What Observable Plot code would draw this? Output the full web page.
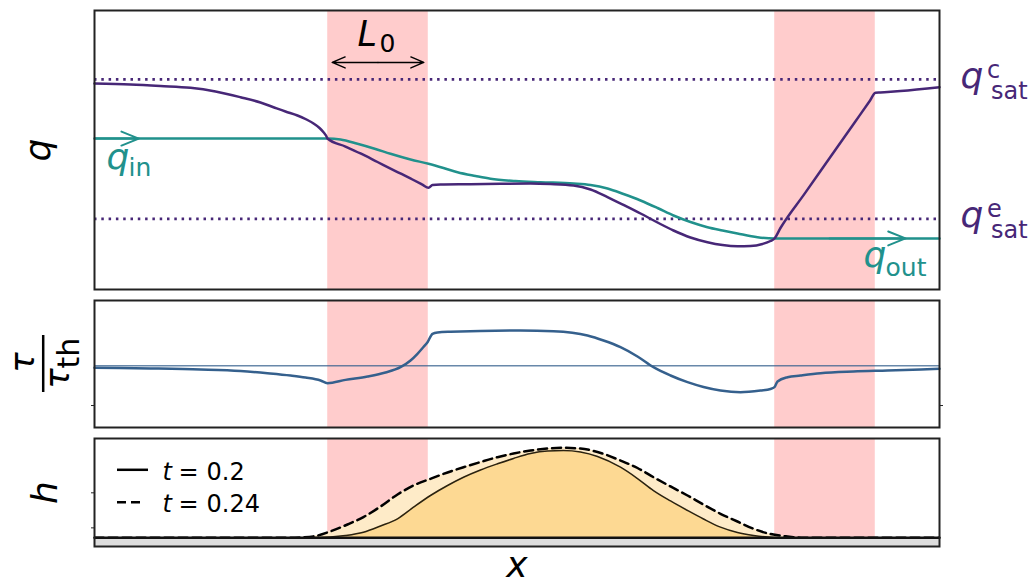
<!DOCTYPE html>
<html><head><meta charset="utf-8">
<script src="https://cdn.jsdelivr.net/npm/d3@7"></script>
<script src="https://cdn.jsdelivr.net/npm/@observablehq/plot@0.6"></script>
<style>
body{margin:0;background:#fff;}
#chart{position:relative;width:1029px;height:584px;}
#chart svg{position:absolute;left:0;}
</style></head><body><div id="chart"></div>
<script>
// ---------- data (x normalised along the channel) ----------
const bandStart = [0.276, 0.805];
const bandEnd   = [0.395, 0.924];

const qSatC = 0.753, qSatE = 0.253, qIn = 0.541, qOut = 0.183, tauTh = 1;

// q (purple)
const qX = [0, 0.0426, 0.0781, 0.1136, 0.1432, 0.1728, 0.1964, 0.2118, 0.2260, 0.2402, 0.2509, 0.2592, 0.2663, 0.2710, 0.2746, 0.2757, 0.2970, 0.3148, 0.3349, 0.3562, 0.3763, 0.3880, 0.3953, 0.4000, 0.4095, 0.4450, 0.4805, 0.5160, 0.5396, 0.5669, 0.5870, 0.6071, 0.6260, 0.6462, 0.6663, 0.6852, 0.7053, 0.7254, 0.7432, 0.7609, 0.7763, 0.7905, 0.8000, 0.8047, 0.8118, 0.8400, 0.8700, 0.9000, 0.9170, 0.9243, 0.9300, 0.9538, 1.0];
const qVal = [0.7384, 0.7348, 0.7294, 0.7229, 0.7097, 0.6892, 0.6703, 0.6534, 0.6380, 0.6237, 0.6093, 0.5950, 0.5789, 0.5638, 0.5484, 0.5412, 0.5125, 0.4875, 0.4570, 0.4247, 0.3943, 0.3760, 0.3645, 0.3746, 0.3763, 0.3774, 0.3789, 0.3799, 0.3781, 0.3728, 0.3584, 0.3308, 0.3029, 0.2724, 0.2401, 0.2115, 0.1864, 0.1695, 0.1595, 0.1552, 0.1559, 0.1631, 0.1738, 0.1828, 0.2204, 0.3419, 0.4711, 0.6003, 0.6735, 0.7050, 0.7062, 0.7115, 0.7251];

// flux (teal)
const fluxX = [0, 0.2757, 0.2911, 0.3112, 0.3325, 0.3503, 0.3740, 0.3953, 0.4130, 0.4296, 0.4509, 0.4686, 0.4982, 0.5278, 0.5669, 0.5870, 0.6071, 0.6260, 0.6462, 0.6663, 0.6852, 0.7053, 0.7254, 0.7432, 0.7609, 0.7846, 0.8047, 1.0];
const fluxVal = [0.5412, 0.5412, 0.5376, 0.5222, 0.5036, 0.4864, 0.4659, 0.4505, 0.4355, 0.4204, 0.4068, 0.3968, 0.3889, 0.3846, 0.3799, 0.3746, 0.3620, 0.3423, 0.3190, 0.2921, 0.2652, 0.2419, 0.2233, 0.2115, 0.2007, 0.1875, 0.1828, 0.1828];

// tau / tau_th
const tauX = [0, 0.0663, 0.1254, 0.1728, 0.2047, 0.2320, 0.2497, 0.2675, 0.2757, 0.2970, 0.3231, 0.3444, 0.3621, 0.3740, 0.3822, 0.3893, 0.3941, 0.4000, 0.4059, 0.4213, 0.5041, 0.5432, 0.5834, 0.6024, 0.6225, 0.6426, 0.6615, 0.6817, 0.7018, 0.7207, 0.7408, 0.7645, 0.7882, 0.8000, 0.8047, 0.8083, 0.8201, 0.8355, 0.8592, 0.8982, 0.9385, 1.0];
const tauVal = [0.9843, 0.9787, 0.9709, 0.9591, 0.9417, 0.9236, 0.9079, 0.8843, 0.8630, 0.8890, 0.9157, 0.9472, 0.9890, 1.0417, 1.0945, 1.1480, 1.1858, 1.2520, 1.2622, 1.2677, 1.2780, 1.2724, 1.2386, 1.1992, 1.1465, 1.0732, 0.9890, 0.9236, 0.8709, 0.8331, 0.8055, 0.7921, 0.8055, 0.8173, 0.8315, 0.8764, 0.9102, 0.9236, 0.9417, 0.9551, 0.9630, 0.9764];

// h at t = 0.2 (solid) and t = 0.24 (dashed)
const hSolidX = [0, 0.2438, 0.2615, 0.2793, 0.2970, 0.3183, 0.3385, 0.3586, 0.3775, 0.3976, 0.4178, 0.4367, 0.4568, 0.4769, 0.4959, 0.5160, 0.5361, 0.5550, 0.5751, 0.5953, 0.6225, 0.6426, 0.6615, 0.6817, 0.7018, 0.7207, 0.7408, 0.7609, 0.7799, 0.8036, 0.8237, 1.0];
const hSolidVal = [0, 0, 0.003, 0.008, 0.023, 0.056, 0.119, 0.191, 0.308, 0.426, 0.527, 0.610, 0.683, 0.745, 0.799, 0.849, 0.874, 0.879, 0.864, 0.819, 0.711, 0.597, 0.476, 0.371, 0.275, 0.189, 0.107, 0.053, 0.023, 0.003, 0, 0];
const hDashX = [0, 0.2320, 0.2438, 0.2615, 0.2793, 0.2994, 0.3183, 0.3385, 0.3586, 0.3775, 0.3976, 0.4178, 0.4367, 0.4568, 0.4769, 0.4959, 0.5160, 0.5361, 0.5550, 0.5751, 0.5953, 0.6225, 0.6426, 0.6615, 0.6817, 0.7018, 0.7207, 0.7408, 0.7609, 0.7799, 0.8000, 0.8201, 0.8391, 1.0];
const hDashVal = [0, 0, 0.003, 0.018, 0.065, 0.134, 0.209, 0.315, 0.436, 0.527, 0.594, 0.658, 0.711, 0.763, 0.812, 0.849, 0.879, 0.899, 0.906, 0.899, 0.864, 0.778, 0.703, 0.610, 0.517, 0.426, 0.335, 0.242, 0.164, 0.091, 0.038, 0.013, 0, 0];

// annotations
const arrowTail = [-0.05, 0.87];
const arrowTip = [0.0524, 0.9598];
const l0ArrowY = 0.814;
const tauTicks = [0.687];
const hTicks = [0.1, 0.453];
const hDomain = [-0.0876, 1.0];
const tauDomain = [0.514, 1.514];
const legendLabels = ["0.2", "0.24"];

// ---------- build tables ----------
const zip = (xs, vs) => xs.map((x, i) => ({x, v: vs[i]}));
const bands = bandStart.map((s, i) => ({x1: s, x2: bandEnd[i]}));
const qData = zip(qX, qVal), fluxData = zip(fluxX, fluxVal), tauData = zip(tauX, tauVal);
const hSolid = zip(hSolidX, hSolidVal), hDash = zip(hDashX, hDashVal);
const qArrows = [{x1: arrowTail[0], x2: arrowTip[0], y: qIn}, {x1: arrowTail[1], x2: arrowTip[1], y: qOut}];
const bc = (bands[0].x1 + bands[0].x2) / 2;
const l0Arrows = [{x1: bc, x2: bands[0].x1, y: l0ArrowY}, {x1: bc, x2: bands[0].x2, y: l0ArrowY}];

// ---------- style ----------
const teal = "#21918c", purple = "#472777", tauBlue = "#35608d", pink = "#ffcccc";
const F = "DejaVu Sans";
const frameStroke = "#222";

function layout(h, mb, yDomain) {
  return {width: 1029, height: h, marginLeft: 94, marginRight: 90, marginTop: 10, marginBottom: mb,
    x: {domain: [0, 1], axis: null, label: null}, y: {domain: yDomain, axis: null, label: null},
    style: {background: "transparent", overflow: "visible", fontFamily: F}};
}
function txt(s, o) {
  return Plot.text([s], {text: d => d, fontFamily: F, textAnchor: "start", lineAnchor: "bottom", ...o});
}
const tickOpts = {tickSize: 3, tickFormat: () => "", label: null, stroke: frameStroke};

// ---------- panel 1 : q ----------
const p1 = Plot.plot({
  ...layout(290, 1, [0, 1]),
  marks: [
    Plot.rect(bands, {x1: "x1", x2: "x2", fill: pink}),
    Plot.ruleY([qSatC, qSatE], {stroke: purple, strokeWidth: 2.6, strokeDasharray: "2.5,4.8"}),
    Plot.line(fluxData, {x: "x", y: "v", stroke: teal, strokeWidth: 2.5, curve: "monotone-x"}),
    Plot.line(qData, {x: "x", y: "v", stroke: purple, strokeWidth: 2.5, curve: "monotone-x"}),
    Plot.arrow(qArrows, {x1: "x1", x2: "x2", y1: "y", y2: "y", stroke: teal, strokeWidth: 2, headLength: 14, headAngle: 44, clip: true}),
    Plot.arrow(l0Arrows, {x1: "x1", x2: "x2", y1: "y", y2: "y", stroke: "#000", strokeWidth: 1.5, headLength: 14, headAngle: 46, insetEnd: 4.5}),
    // L0
    txt("L", {x: () => bc, frameAnchor: "top", dx: -20.5, dy: 35, fontSize: 35, fontStyle: "italic", fill: "#000"}),
    txt("0", {x: () => bc, frameAnchor: "top", dx: 1.5, dy: 41.7, fontSize: 25, fill: "#000"}),
    // q_in
    txt("q", {y: () => qIn, frameAnchor: "left", dx: 12, dy: 30, fontSize: 36, fontStyle: "italic", fill: teal}),
    txt("in", {y: () => qIn, frameAnchor: "left", dx: 34, dy: 37, fontSize: 25, fill: teal}),
    // q_out
    txt("q", {y: () => qOut, frameAnchor: "right", dx: -76, dy: 29, fontSize: 36, fontStyle: "italic", fill: teal}),
    txt("out", {y: () => qOut, frameAnchor: "right", dx: -54, dy: 38, fontSize: 25, fill: teal}),
    // q_sat^c, q_sat^e
    ...[[qSatC, "c"], [qSatE, "e"]].flatMap(([lv, sup]) => [
      txt("q", {y: () => lv, frameAnchor: "right", dx: 21, dy: 8.5, fontSize: 36, fontStyle: "italic", fill: purple}),
      txt(sup, {y: () => lv, frameAnchor: "right", dx: 47.5, dy: -1.5, fontSize: 24, fill: purple}),
      txt("sat", {y: () => lv, frameAnchor: "right", dx: 51.5, dy: 19.5, fontSize: 24, fill: purple})
    ]),
    // y label
    txt("q", {frameAnchor: "left", dx: -45, rotate: -90, textAnchor: "middle", fontSize: 36, fontStyle: "italic", fill: "#000"}),
    Plot.frame({stroke: frameStroke, strokeWidth: 2})
  ]
});

// ---------- panel 2 : tau ----------
const p2 = Plot.plot({
  ...layout(138, 1, tauDomain),
  marks: [
    Plot.rect(bands, {x1: "x1", x2: "x2", fill: pink}),
    Plot.ruleY([tauTh], {stroke: tauBlue, strokeOpacity: 0.75, strokeWidth: 1.6}),
    Plot.line(tauData, {x: "x", y: "v", stroke: tauBlue, strokeWidth: 2.5, curve: "monotone-x"}),
    Plot.axisY(tauTicks, {anchor: "left", ...tickOpts}),
    Plot.axisY(tauTicks, {anchor: "right", ...tickOpts}),
    // fraction label tau / tau_th
    txt("τ", {frameAnchor: "left", dx: -60.5, dy: -1.5, rotate: -90, textAnchor: "middle", fontSize: 34, fontStyle: "italic", fill: "#000"}),
    Plot.ruleX([0], {x: null, dx: 42.7 - 516.5, insetTop: 35, insetBottom: 35, stroke: "#000", strokeWidth: 2.5}),
    txt("τ", {frameAnchor: "left", dx: -26, dy: 14.5, rotate: -90, textAnchor: "middle", fontSize: 34, fontStyle: "italic", fill: "#000"}),
    txt("th", {frameAnchor: "left", dx: -16, dy: -11, rotate: -90, textAnchor: "middle", fontSize: 30, fill: "#000"}),
    Plot.frame({stroke: frameStroke, strokeWidth: 2})
  ]
});

// ---------- panel 3 : h ----------
const p3 = Plot.plot({
  ...layout(156, 38, hDomain),
  marks: [
    Plot.rect(bands, {x1: "x1", x2: "x2", fill: pink}),
    Plot.areaY(hDash, {x: "x", y: "v", fill: "#feebc8", curve: "monotone-x"}),
    Plot.areaY(hSolid, {x: "x", y: "v", fill: "#fdd993", curve: "monotone-x"}),
    Plot.line(hSolid, {x: "x", y: "v", stroke: "#2a2210", strokeWidth: 1.5, curve: "monotone-x"}),
    Plot.line(hDash, {x: "x", y: "v", stroke: "#000", strokeWidth: 2.5, strokeDasharray: "9,5", curve: "monotone-x"}),
    Plot.rect([{y1: hDomain[0], y2: 0}], {y1: "y1", y2: "y2", fill: "#dddddd"}),
    Plot.ruleY([0], {stroke: "#111", strokeWidth: 2.5}),
    Plot.axisY(hTicks, {anchor: "left", ...tickOpts}),
    // legend
    Plot.ruleY([0], {y: null, dy: 469.3 - 492, insetLeft: 23, insetRight: 791, stroke: "#000", strokeWidth: 2.5}),
    Plot.ruleY([0], {y: null, dy: 501.7 - 492, insetLeft: 23, insetRight: 794, stroke: "#000", strokeWidth: 2.5, strokeDasharray: "9,5"}),
    ...legendLabels.flatMap((lab, i) => [
      txt("t", {frameAnchor: "top-left", dx: 68, dy: 41.3 + 32.4 * i, fontSize: 24, fontStyle: "italic", fill: "#000"}),
      txt("=", {frameAnchor: "top-left", dx: 84, dy: 41.3 + 32.4 * i, fontSize: 24, fill: "#000"}),
      txt(lab, {frameAnchor: "top-left", dx: 112, dy: 41.3 + 32.4 * i, fontSize: 24, fill: "#000"})
    ]),
    txt("h", {frameAnchor: "left", dx: -37.5, rotate: -90, textAnchor: "middle", fontSize: 36, fontStyle: "italic", fill: "#000"}),
    txt("x", {frameAnchor: "bottom", dy: 30.5, textAnchor: "middle", fontSize: 36, fontStyle: "italic", fill: "#000"}),
    Plot.frame({stroke: frameStroke, strokeWidth: 2})
  ]
});

const chart = document.getElementById("chart");
[[p1, 0], [p2, 290], [p3, 428]].forEach(([svg, top]) => {
  svg.style.position = "absolute";
  svg.style.top = top + "px";
  svg.style.left = "0px";
  chart.appendChild(svg);
});
</script>
</body></html>
